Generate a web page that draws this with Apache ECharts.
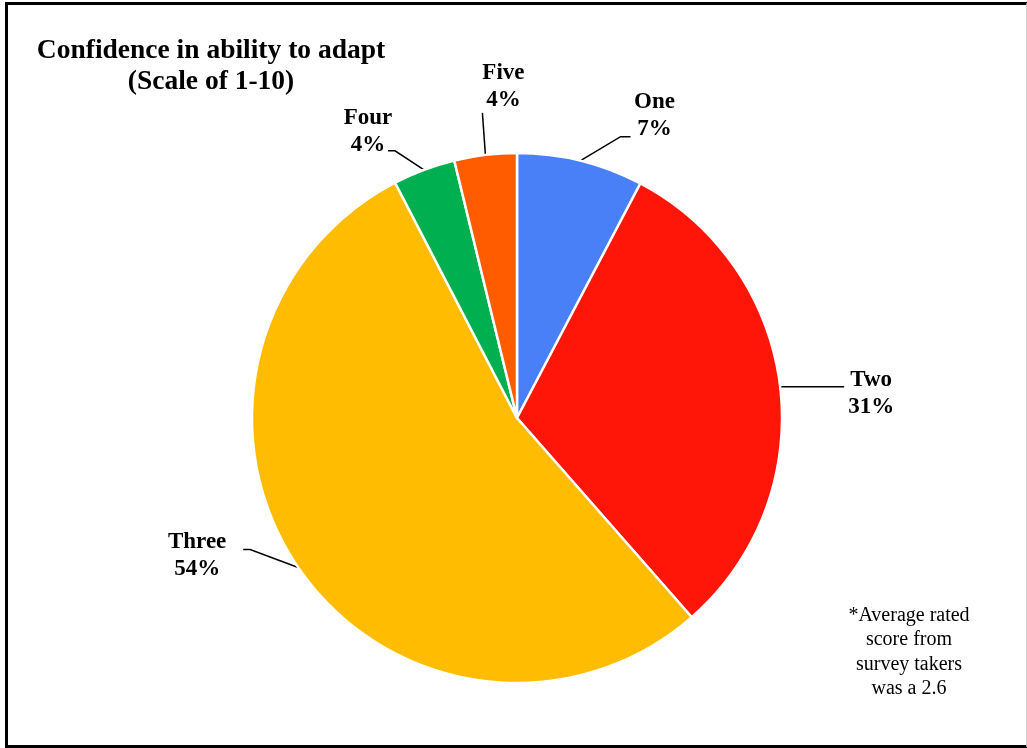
<!DOCTYPE html>
<html>
<head>
<meta charset="utf-8">
<script src="https://cdn.jsdelivr.net/npm/echarts@6/dist/echarts.min.js"></script>
<style>
  html, body { margin: 0; padding: 0; background: #fff; }
  #frame {
    position: absolute; left: 5px; top: 2px; width: 1018px; height: 740px;
    border: 3px solid #000; border-right: 1px solid #cfcfcf;
  }
  #chart { position: absolute; left: 0; top: 0; width: 1027px; height: 748px; }
</style>
</head>
<body>
<div id="frame"></div>
<div id="chart"></div>
<script>
// rating categories and their share of respondents
var categories = ['One', 'Two', 'Three', 'Four', 'Five'];
var shares = [7.7, 30.8, 53.8, 3.8, 3.8];
// percentages as printed on the labels
var pctLabels = ['7%', '31%', '54%', '4%', '4%'];
var colors = ['#4a80f7', '#ff1608', '#ffbc00', '#00b050', '#ff5c00'];

var chart = echarts.init(document.getElementById('chart'));

// leader line bend / end and label centre, relative to the slice anchor
var leader = [
  { bend: [40, -24], end: [50, -24], text: [74, -45] },
  { bend: [64, 0], end: [64, 0], text: [91, 7] },
  { bend: [-48, -18], end: [-55, -18], text: [-101, -12] },
  { bend: [-29, -19], end: [-36, -19], text: [-56, -38] },
  { bend: [-3, -42], end: [-3, -42], text: [18, -68] }
];

var data = categories.map(function (name, i) {
  return {
    name: name,
    value: shares[i],
    itemStyle: { color: colors[i] }
  };
});

var option = {
  animation: false,
  backgroundColor: 'transparent',
  title: {
    text: 'Confidence in ability to adapt\n(Scale of 1-10)',
    left: 206,
    top: 30,
    textAlign: 'center',
    textStyle: {
      fontFamily: 'Liberation Serif',
      fontWeight: 'bold',
      fontSize: 27.5,
      lineHeight: 31,
      color: '#000'
    }
  },
  graphic: [{
    type: 'text',
    x: 909,
    y: 603,
    style: {
      text: '*Average rated\nscore from\nsurvey takers\nwas a 2.6',
      font: '20px "Liberation Serif"',
      lineHeight: 24.5,
      fill: '#000',
      align: 'center',
      verticalAlign: 'top'
    }
  }],
  series: [{
    type: 'pie',
    center: [517, 418],
    radius: 265,
    startAngle: 90,
    clockwise: true,
    avoidLabelOverlap: false,
    itemStyle: { borderColor: '#fff', borderWidth: 2.5 },
    label: {
      show: true,
      position: 'outside',
      formatter: function (p) {
        return '{a|' + p.name + '}\n{a|' + pctLabels[p.dataIndex] + '}';
      },
      rich: {
        a: {
          fontFamily: 'Liberation Serif',
          fontWeight: 'bold',
          fontSize: 23,
          lineHeight: 27,
          width: 66,
          align: 'center',
          color: '#000'
        }
      }
    },
    labelLine: { show: true, length: 10, length2: 10, lineStyle: { color: '#000', width: 1.5 } },
    labelLayout: function (p) {
      var a = p.labelLinePoints[0];
      var l = leader[p.dataIndex];
      return {
        x: a[0] + l.text[0],
        y: a[1] + l.text[1],
        align: 'center',
        verticalAlign: 'middle',
        labelLinePoints: [
          a,
          [a[0] + l.bend[0], a[1] + l.bend[1]],
          [a[0] + l.end[0], a[1] + l.end[1]]
        ]
      };
    },
    emphasis: { disabled: true },
    data: data
  }]
};

chart.setOption(option);
</script>
</body>
</html>
